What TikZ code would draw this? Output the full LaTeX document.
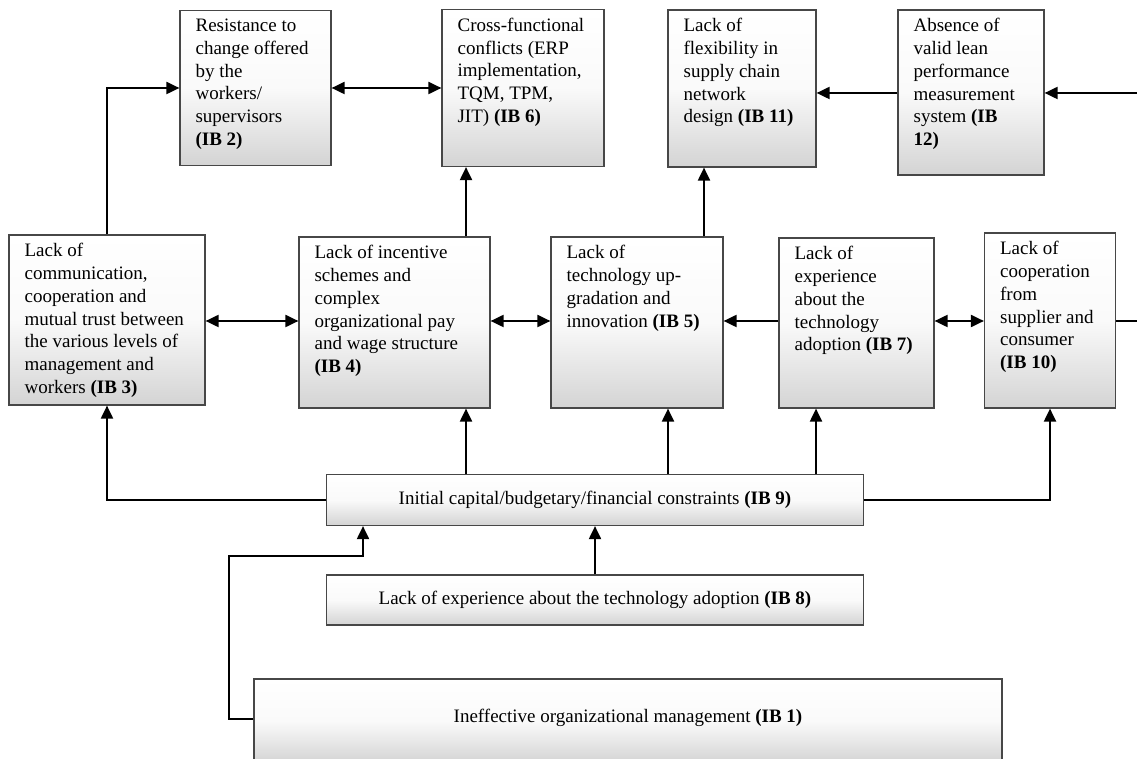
\documentclass[tikz,border=0pt]{standalone}
\usepackage{fontspec}
\setmainfont{Liberation Serif}
\usetikzlibrary{arrows.meta,calc}
\begin{document}
\begin{tikzpicture}[x=1pt,y=1pt]
\tikzset{
 box/.style={draw=black!72, line width=1.2pt, top color=white, bottom color=black!17, middle color=black!2, inner sep=0pt},
 txt/.style={anchor=north west, inner sep=0pt, align=left, font=\fontsize{19}{22.7}\selectfont, execute at begin node=\strut},
 ctxt/.style={inner sep=0pt, font=\fontsize{19}{22.7}\selectfont},
 conn/.style={line width=2pt, black},
 arr/.style={conn, -{Triangle[length=13pt,width=12pt]}},
 darr/.style={conn, {Triangle[length=13pt,width=12pt]}-{Triangle[length=13pt,width=12pt]}},
}
\useasboundingbox (0,0) rectangle (1137,758);
\clip (0,0) rectangle (1137,758);
\fill[white] (0,0) rectangle (1137,758);

% top row
\node[box, minimum width=151pt, minimum height=155pt] (ib2) at (255.5,670) {};
\node[txt] (ib2t) at ($(ib2.north west)+(16,-9)$) {Resistance to\\change offered\\by the\\workers/\\supervisors\\\textbf{(IB 2)}};
\node[box, minimum width=162pt, minimum height=157pt] (ib6) at (523,670) {};
\node[txt] (ib6t) at ($(ib6.north west)+(16,-9)$) {Cross-functional\\conflicts (ERP\\implementation,\\TQM, TPM,\\JIT) \textbf{(IB 6)}};
\node[box, minimum width=148pt, minimum height=157pt] (ib11) at (742,669.5) {};
\node[txt] (ib11t) at ($(ib11.north west)+(16,-9)$) {Lack of\\flexibility in\\supply chain\\network\\design \textbf{(IB 11)}};
\node[box, minimum width=146pt, minimum height=165pt] (ib12) at (971,665.5) {};
\node[txt] (ib12t) at ($(ib12.north west)+(16,-9)$) {Absence of\\valid lean\\performance\\measurement\\system \textbf{(IB}\\\textbf{12)}};

% middle row
\node[box, minimum width=196pt, minimum height=170pt] (ib3) at (107,438) {};
\node[txt] (ib3t) at ($(ib3.north west)+(16,-9)$) {Lack of\\communication,\\cooperation and\\mutual trust between\\the various levels of\\management and\\workers \textbf{(IB 3)}};
\node[box, minimum width=191pt, minimum height=171pt] (ib4) at (394.5,435.5) {};
\node[txt] (ib4t) at ($(ib4.north west)+(16,-9)$) {Lack of incentive\\schemes and\\complex\\organizational pay\\and wage structure\\\textbf{(IB 4)}};
\node[box, minimum width=172pt, minimum height=171pt] (ib5) at (637,435.5) {};
\node[txt] (ib5t) at ($(ib5.north west)+(16,-9)$) {Lack of\\technology up-\\gradation and\\innovation \textbf{(IB 5)}};
\node[box, minimum width=155pt, minimum height=170pt] (ib7) at (856.5,435) {};
\node[txt] (ib7t) at ($(ib7.north west)+(16,-9)$) {Lack of\\experience\\about the\\technology\\adoption \textbf{(IB 7)}};
\node[box, minimum width=131pt, minimum height=175pt] (ib10) at (1050,437.5) {};
\node[txt] (ib10t) at ($(ib10.north west)+(16,-9)$) {Lack of\\cooperation\\from\\supplier and\\consumer\\\textbf{(IB 10)}};

% lower boxes
\node[box, ctxt, minimum width=537pt, minimum height=51pt] (ib9) at (595,258) {Initial capital/budgetary/financial constraints \textbf{(IB 9)}};
\node[box, ctxt, minimum width=537pt, minimum height=50pt] (ib8) at (595,158) {Lack of experience about the technology adoption \textbf{(IB 8)}};
\node[box, minimum width=748pt, minimum height=84pt] (ib1) at (628,37) {};
\node[ctxt] (ib1t) at (628,40) {Ineffective organizational management \textbf{(IB 1)}};

% helper coordinates
\coordinate (x466) at (466,0);
\coordinate (x668) at (668,0);
\coordinate (x704) at (704,0);
\coordinate (x816) at (816,0);
\coordinate (y93) at (0,665);
\coordinate (y321) at (0,437);
\coordinate (eR1) at (1137,665);
\coordinate (eR2) at (1137,437);
\coordinate (k1) at (229,202);
\coordinate (k2) at (363,202);

% connectors top
\draw[arr] (ib3.north) |- (ib2.west);
\draw[darr] (ib2.east) -- (ib6.west);
\draw[arr] (ib4.north -| x466) -- (ib6.south -| x466);
\draw[arr] (ib5.north -| x704) -- (ib11.south -| x704);
\draw[arr] (ib12.west |- y93) -- (ib11.east |- y93);
\draw[arr] (eR1) -- (ib12.east |- eR1);

% connectors middle
\draw[darr] (ib3.east |- y321) -- (ib4.west |- y321);
\draw[darr] (ib4.east |- y321) -- (ib5.west |- y321);
\draw[arr] (ib7.west |- y321) -- (ib5.east |- y321);
\draw[darr] (ib7.east |- y321) -- (ib10.west |- y321);
\draw[conn] (ib10.east |- y321) -- (eR2);

% connectors from IB9
\draw[arr] (ib9.west) -| (ib3.south);
\draw[arr] (ib9.north -| x466) -- (ib4.south -| x466);
\draw[arr] (ib9.north -| x668) -- (ib5.south -| x668);
\draw[arr] (ib9.north -| x816) -- (ib7.south -| x816);
\draw[arr] (ib9.east) -| (ib10.south);

% into IB9
\draw[arr] (ib8.north) -- (ib9.south);
\draw[arr] (ib1.west |- 0,39) -| (k1) -- (k2) -- (ib9.south -| k2);
\end{tikzpicture}
\end{document}
